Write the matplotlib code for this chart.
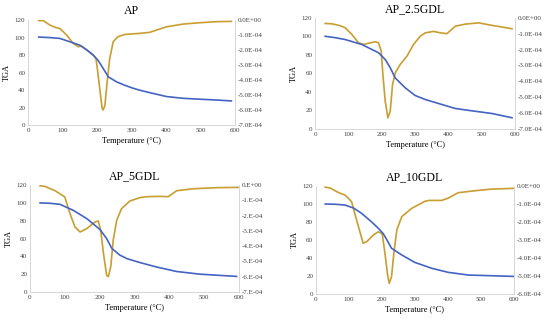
import matplotlib
matplotlib.use("Agg")
import matplotlib.pyplot as plt
import numpy as np

plt.rcParams['font.family'] = ['Liberation Serif', 'DejaVu Serif']

titles = ["AP", "AP_2.5GDL", "AP_5GDL", "AP_10GDL"]

# AP
ap_tga_T = [31, 60, 92, 111, 130, 150, 170, 189, 203, 218, 233, 257, 280, 305, 324, 353, 380, 402, 450, 498, 550, 590]
ap_tga_v = [100.5, 100, 99, 96.5, 94, 91.3, 86, 80, 74, 64.6, 55, 49.3, 45.5, 42, 39.8, 37, 34.5, 32.5, 30.5, 29.5, 28.5, 27.5]
ap_dtg_T = [31, 44, 63, 80, 92, 112, 131, 146, 155, 170, 189, 197, 201, 208, 215, 218, 223, 229.5, 237, 247, 261, 281, 324, 353, 402, 450, 498, 547, 590]
ap_dtg_v = [-0.04, -0.04, -0.33, -0.5, -0.56, -1.0, -1.56, -1.78, -1.74, -2.0, -2.34, -2.57, -3.23, -4.57, -5.9, -6.0, -5.69, -4.12, -2.57, -1.45, -1.11, -0.96, -0.89, -0.82, -0.45, -0.27, -0.18, -0.11, -0.09]

# AP_2.5GDL
g25_tga_T = [30, 60, 90, 140, 190, 210, 225, 240, 270, 300, 330, 380, 420, 480, 530, 590]
g25_tga_v = [100, 98.5, 96.5, 91.1, 82.2, 74.9, 66, 55, 44.3, 36, 31.7, 26.3, 22, 19, 16.6, 12]
g25_dtg_T = [30, 50, 75, 90, 110, 130, 145, 180, 190, 198, 203, 210, 218, 225, 232, 240, 255, 275, 295, 315, 330, 355, 375, 395, 420, 450, 490, 530, 590]
g25_dtg_v = [-0.36, -0.38, -0.5, -0.63, -1.05, -1.58, -1.68, -1.51, -1.58, -2.1, -3.57, -5.26, -6.3, -5.89, -4.2, -3.47, -2.94, -2.42, -1.68, -1.16, -0.95, -0.86, -0.95, -1.0, -0.53, -0.40, -0.32, -0.48, -0.69]

# AP_5GDL
g5_tga_T = [29, 60, 86, 124, 163, 201, 220, 235, 258, 278, 316, 364, 421, 488, 593]
g5_tga_v = [100, 99.5, 98.4, 91.7, 82.4, 70.1, 60, 48.9, 41.4, 37.5, 33, 28, 23, 20, 17.5]
g5_dtg_T = [29, 43, 72, 86, 100, 115, 129, 144, 163, 187, 196, 203, 211, 220, 225, 232, 239, 249, 263, 287, 316, 335, 373, 397, 421, 469, 536, 598]
g5_dtg_v = [-0.04, -0.09, -0.37, -0.57, -0.78, -1.87, -2.74, -3.07, -2.85, -2.41, -2.35, -2.96, -4.48, -5.9, -6.0, -5.33, -3.6, -2.3, -1.54, -1.04, -0.82, -0.76, -0.74, -0.76, -0.37, -0.24, -0.17, -0.15]

# AP_10GDL
g10_tga_T = [28, 60, 88, 114, 138, 169, 189, 204, 215, 229, 260, 300, 351, 401, 462, 598]
g10_tga_v = [100, 99.7, 98.9, 95.5, 89.7, 80, 73, 67, 60, 50.8, 43.3, 35, 28.5, 24, 21, 19.5]
g10_dtg_T = [28, 43, 69, 88, 108, 123, 143, 154, 174, 189, 201, 209, 217, 222, 229, 236, 245, 260, 290, 330, 341, 381, 401, 431, 482, 532, 598]
g10_dtg_v = [-0.06, -0.11, -0.37, -0.5, -0.87, -1.89, -3.18, -3.09, -2.72, -2.54, -2.67, -3.74, -4.94, -5.41, -5.04, -3.74, -2.44, -1.7, -1.24, -0.85, -0.8, -0.8, -0.67, -0.37, -0.26, -0.17, -0.13]

left_ticks = [0, 20, 40, 60, 80, 100, 120]
x_ticks = [0, 100, 200, 300, 400, 500, 600]
right_labels = [
    ["0.0E+00", "-1.0E-04", "-2.0E-04", "-3.0E-04", "-4.0E-04", "-5.0E-04", "-6.0E-04", "-7.0E-04"],
    ["0.0E+00", "-1.0E-04", "-2.0E-04", "-3.0E-04", "-4.0E-04", "-5.0E-04", "-6.0E-04", "-7.0E-04"],
    ["0.E+00", "-1.E-04", "-2.E-04", "-3.E-04", "-4.E-04", "-5.E-04", "-6.E-04", "-7.E-04"],
    ["0.0E+00", "-1.0E-04", "-2.0E-04", "-3.0E-04", "-4.0E-04", "-5.0E-04", "-6.0E-04"],
]

series = [
    (ap_tga_T, ap_tga_v, ap_dtg_T, ap_dtg_v),
    (g25_tga_T, g25_tga_v, g25_dtg_T, g25_dtg_v),
    (g5_tga_T, g5_tga_v, g5_dtg_T, g5_dtg_v),
    (g10_tga_T, g10_tga_v, g10_dtg_T, g10_dtg_v),
]

rects = [
    [0.051, 0.613, 0.376, 0.325],
    [0.573, 0.601, 0.364, 0.344],
    [0.0545, 0.096, 0.38, 0.331],
    [0.5745, 0.090, 0.36, 0.334],
]

blue = '#4463C2'
gold = '#C99E30'
spine_c = '#D0D0D0'

fig = plt.figure(figsize=(5.5, 3.23), dpi=100)
for i in range(4):
    tT, tv, dT, dv = series[i]
    ax = fig.add_axes(rects[i])
    ax.plot(tT, tv, color=blue, lw=1.2, zorder=3, solid_joinstyle='round')
    ax.set_xlim(0, 600)
    ax.set_ylim(0, 120)
    ax.set_xticks(x_ticks)
    ax.set_yticks(left_ticks)
    ax.tick_params(labelsize=5, length=0, pad=2, colors='#404040')
    ax.set_xlabel("Temperature (°C)", fontsize=6, labelpad=3)
    ax.set_ylabel("TGA", fontsize=6, labelpad=3)
    ax.set_title(titles[i], fontsize=8.5, pad=4)
    for s in ['top', 'right']:
        ax.spines[s].set_visible(False)
    for s in ['left', 'bottom']:
        ax.spines[s].set_color(spine_c)
        ax.spines[s].set_linewidth(0.6)
    ax2 = ax.twinx()
    ax2.plot(dT, np.array(dv) * 1e-4, color=gold, lw=1.2, zorder=2, solid_joinstyle='round')
    labs = right_labels[i]
    n = len(labs) - 1
    ax2.set_ylim(-n * 1e-4, 0)
    ax2.set_yticks([-k * 1e-4 for k in range(n + 1)])
    ax2.set_yticklabels(labs)
    ax2.tick_params(labelsize=5, length=0, pad=2, colors='#404040')
    for s in ['top', 'left', 'bottom']:
        ax2.spines[s].set_visible(False)
    ax2.spines['right'].set_color(spine_c)
    ax2.spines['right'].set_linewidth(0.6)
    ax.set_zorder(ax2.get_zorder() + 1)
    ax.patch.set_visible(False)

fig.savefig("out.png", dpi=100)
